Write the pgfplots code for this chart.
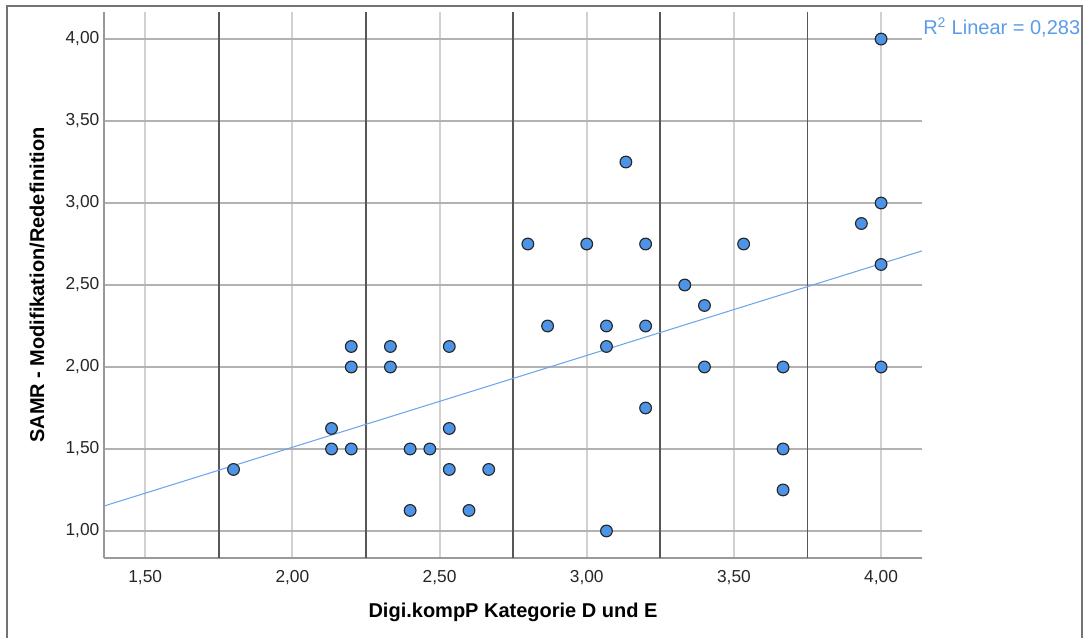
\documentclass[border=0pt]{standalone}
\usepackage{pgfplots}
\pgfplotsset{compat=1.18}
\usepackage{fontspec}
\setmainfont{Liberation Sans}
\definecolor{ptfill}{HTML}{4D94E6}
\definecolor{regline}{HTML}{6EA6EE}
\definecolor{rtext}{HTML}{5B9BE8}
\begin{document}
\begin{tikzpicture}
\path[use as bounding box] (0pt,0pt) rectangle (813.75pt,477.75pt);
\draw[draw=black!55, line width=0.9pt] (5.25pt,-2pt) -- (5.25pt,473.25pt) -- (811.5pt,473.25pt) -- (811.5pt,-2pt);
\begin{axis}[
  at={(78pt,59.25pt)}, anchor=south west,
  scale only axis, width=613.5pt, height=409.5pt,
  xmin=1.36, xmax=4.139, ymin=0.835, ymax=4.165,
  axis x line*=bottom, axis y line*=left,
  axis line style={draw=black!40, line width=1.6pt, -},
  xtick={1.5,2,2.5,3,3.5,4}, ytick={1,1.5,2,2.5,3,3.5,4},
  major tick length=0pt,
  xmajorgrids, ymajorgrids,
  x grid style={draw=black!18, line width=1.5pt},
  y grid style={draw=black!30, line width=1.1pt},
  extra x ticks={1.75,2.25,2.75,3.25,3.75}, extra x tick labels={},
  extra x tick style={grid=major, x grid style={draw=black!66, line width=1.4pt}, major grid style={draw=black!66, line width=1.4pt}},
  ticklabel style={font=\fontsize{13}{15}\selectfont, text=black!85},
  xticklabel shift=5.5pt,
  /pgf/number format/.cd, fixed, fixed zerofill, precision=2, use comma, assume math mode=true,
  /pgfplots/.cd,
  xlabel={Digi.kompP Kategorie D und E},
  ylabel={SAMR - Modifikation/Redefinition},
  xlabel style={at={(axis description cs:0.5,-0.0989)}, anchor=center, font=\fontsize{15}{17}\selectfont\bfseries},
  ylabel style={at={(axis description cs:-0.0819,0.5)}, anchor=center, font=\fontsize{15}{17}\selectfont\bfseries},
]
\addplot[regline, line width=0.8pt] coordinates {(1.36,1.152) (4.139,2.708)};
\addplot[only marks, mark=*, mark size=4.4pt, mark options={fill=ptfill, draw=black!85, line width=0.85pt}] coordinates {
(1.800,1.375)
(2.133,1.625) (2.133,1.500)
(2.200,2.125) (2.200,2.000) (2.200,1.500)
(2.333,2.125) (2.333,2.000)
(2.400,1.500) (2.400,1.125)
(2.467,1.500)
(2.533,2.125) (2.533,1.625) (2.533,1.375)
(2.600,1.125)
(2.667,1.375)
(2.800,2.750)
(2.867,2.250)
(3.000,2.750)
(3.067,2.250) (3.067,2.125) (3.067,1.000)
(3.133,3.250)
(3.200,2.750) (3.200,2.250) (3.200,1.750)
(3.333,2.500)
(3.400,2.375) (3.400,2.000)
(3.533,2.750)
(3.667,2.000) (3.667,1.500) (3.667,1.250)
(3.933,2.875)
(4.000,4.000) (4.000,3.000) (4.000,2.625) (4.000,2.000)
};
\end{axis}
\node[anchor=west, inner sep=0pt, text=rtext, font=\fontsize{15}{17}\selectfont] at (692.25pt,457.5pt) {R\textsuperscript{2} Linear = 0,283};
\end{tikzpicture}
\end{document}
